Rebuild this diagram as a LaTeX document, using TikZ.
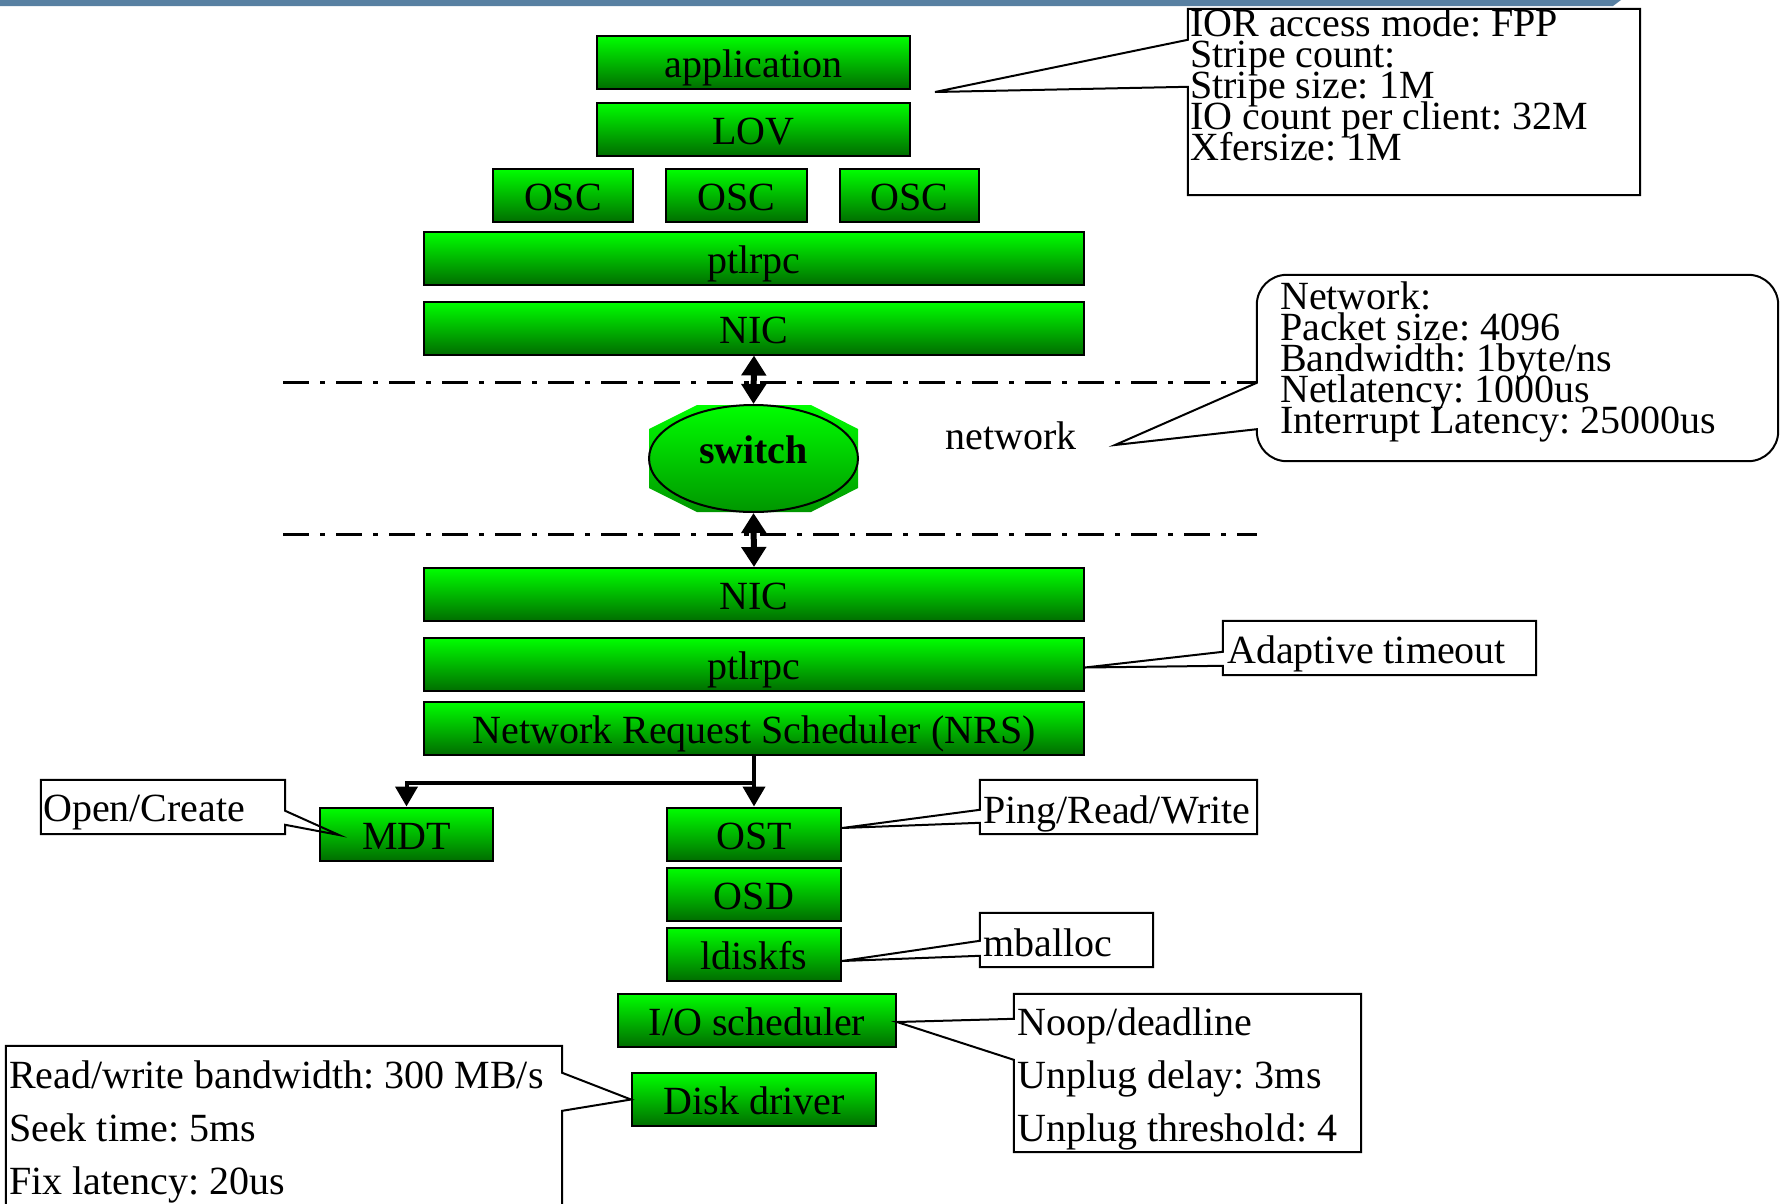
\documentclass[tikz,border=0pt]{standalone}
\usepackage{fontspec}
\setmainfont{Liberation Serif}
\usetikzlibrary{arrows.meta,calc,shapes.geometric}
\frenchspacing
\newcommand\tightlines{\setlength{\lineskiplimit}{-100pt}}

\definecolor{limetop}{RGB}{0,255,0}
\definecolor{limebot}{RGB}{0,110,0}
\definecolor{swbot}{RGB}{0,150,0}
\definecolor{barblue}{RGB}{88,128,162}

\begin{document}
\begin{tikzpicture}[x=1pt, y=-1pt,
		font=\fontsize{40pt}{31pt}\selectfont\tightlines,
		b/.style = {rectangle, draw=black, line width=2pt, top color=limetop, bottom color=limebot, minimum height=53pt, inner sep=0pt, text height=30pt, text depth=0pt},
		f/.style = {rectangle, inner sep=0pt},
		t/.style = {inner sep=0pt, align=left},
		c/.style = {draw=black, line width=2pt},
		d/.style = {{Triangle[width=24pt,length=20pt]}-{Triangle[width=24pt,length=20pt]}, line width=6pt},
		r/.style = {-{Triangle[width=22pt,length=20pt]}, line width=4pt},
		n/.style = {line width=3pt, dash pattern=on 26pt off 11pt on 5pt off 11pt}
		]
		
		\useasboundingbox (0,0) rectangle (1781,1203);
		\clip (0,0) rectangle (1781,1203);
		\fill[barblue] (0,0) -- (1621,0) -- (1613,6) -- (0,6) -- cycle;
		
		%Nodes
		\node[b, minimum width=313pt]	(app)	at	(753.5, 62.5)	{application};
		\node[b, minimum width=313pt]	(lov)	at	(753.5, 129)	{LOV};
		\node[b, minimum width=140pt]	(osc1)	at	(563, 195.5)	{OSC};
		\node[b, minimum width=141pt]	(osc2)	at	(736.5, 195.5)	{OSC};
		\node[b, minimum width=139pt]	(osc3)	at	(909.5, 195.5)	{OSC};
		\node[b, minimum width=660pt]	(ptl1)	at	(754, 258.5)	{ptlrpc};
		\node[b, minimum width=660pt]	(nic1)	at	(754, 328)	{NIC};
		\shade[top color=limetop, bottom color=swbot] (697,405) -- (811,405) -- (858,429) -- (858,488) -- (811,512) -- (697,512) -- (649,488) -- (649,429) -- cycle;
		\node[ellipse, draw=black, line width=2pt, minimum width=209pt, minimum height=107pt, inner sep=0pt, text height=30pt, text depth=21pt, font=\fontsize{40pt}{30pt}\selectfont\bfseries]	(switch)	at	(753.5, 458.5)	{switch};
		\node[anchor=base]	(net)	at	(1011, 449)	{network};
		\node[b, minimum width=660pt]	(nic2)	at	(754, 594.5)	{NIC};
		\node[b, minimum width=660pt]	(ptl2)	at	(754, 664.5)	{ptlrpc};
		\node[b, minimum width=660pt]	(nrs)	at	(754, 728)	{Network Request Scheduler (NRS)};
		\node[b, minimum width=173pt]	(mdt)	at	(406.5, 834)	{MDT};
		\node[b, minimum width=174pt]	(ost)	at	(754, 834)	{OST};
		\node[b, minimum width=174pt]	(osd)	at	(754, 894)	{OSD};
		\node[b, minimum width=174pt]	(ldisk)	at	(754, 954)	{ldiskfs};
		\node[b, minimum width=278pt]	(iosch)	at	(757, 1020)	{I/O scheduler};
		\node[b, minimum width=244pt]	(disk)	at	(754, 1099.5)	{Disk driver};
		
		%Callouts
		\node[f, minimum width=452pt, minimum height=186pt]	(ior)	at	(1414, 102)	{};
		\node[f, minimum width=521pt, minimum height=186pt]	(netw)	at	(1517.5, 368)	{};
		\node[f, minimum width=313pt, minimum height=54pt]	(adapt)	at	(1379.5, 648)	{};
		\node[f, minimum width=277pt, minimum height=54pt]	(ping)	at	(1118.5, 807)	{};
		\node[f, minimum width=173pt, minimum height=54pt]	(mball)	at	(1066.5, 940)	{};
		\node[f, minimum width=347pt, minimum height=158pt]	(noop)	at	(1187.5, 1073)	{};
		\node[f, minimum width=244pt, minimum height=54pt]	(open)	at	(163, 807)	{};
		\node[f, minimum width=556pt, minimum height=184pt]	(rw)	at	(284, 1138)	{};
		
		\node[t, anchor=north west]	(iort)	at	(1190, 9)	{IOR access mode: FPP\\Stripe count:\\Stripe size: 1M\\IO count per client: 32M\\Xfersize: 1M};
		\node[t, anchor=north west]	(netwt)	at	(1280, 282)	{Network:\\Packet size: 4096\\Bandwidth: 1byte/ns\\Netlatency: 1000us\\Interrupt Latency: 25000us};
		\node[t, anchor=base west]	(adaptt)	at	(1227, 663)	{Adaptive timeout};
		\node[t, anchor=base west]	(pingt)	at	(983, 823)	{Ping/Read/Write};
		\node[t, anchor=base west]	(mballt)	at	(983, 956)	{mballoc};
		\node[t, anchor=north west, font=\fontsize{40pt}{53pt}\selectfont\tightlines]	(noopt)	at	(1017, 1008)	{Noop/deadline\\Unplug delay: 3ms\\Unplug threshold: 4};
		\node[t, anchor=base west]	(opent)	at	(43, 821)	{Open/Create};
		\node[t, anchor=north west, font=\fontsize{40pt}{53pt}\selectfont\tightlines]	(rwt)	at	(9, 1061)	{Read/write bandwidth: 300 MB/s\\Seek time: 5ms\\Fix latency: 20us};
		
		\coordinate	(iortip)	at	(935, 92);
		\coordinate	(netwtip)	at	(1115, 445);
		\coordinate	(split)	at	(754, 783);
		\coordinate	(l1)	at	(283, 382);
		\coordinate	(l2)	at	(283, 534);
		
		%Lines
		\draw[n]	(l1)	--	(netw.west |- l1);
		\draw[n]	(l2)	--	(netw.west |- l2);
		\draw[d]	(nic1.south)	--	(switch.north);
		\draw[d]	(switch.south)	--	(nic2.north);
		\draw[r]	(nrs.south)	--	(ost.north);
		\draw[r]	(split)	-|	(mdt.north);
		
		\draw[c]	($(ior.north west)+(0,31)$) -- (iortip) -- ($(ior.north west)+(0,78)$) -- (ior.south west) -- (ior.south east) -- (ior.north east) -- (ior.north west) -- cycle;
		\draw[c]	(netwtip) -- ($(netw.north west)+(0,108)$) [rounded corners=30pt] -- (netw.north west) -- (netw.north east) -- (netw.south east) -- (netw.south west) [sharp corners] -- ($(netw.south west)+(0,-32)$) -- cycle;
		\draw[c]	($(adapt.north west)+(0,31)$) -- ($(ptl2.east)+(0,3)$) -- ($(adapt.north west)+(0,45)$) -- (adapt.south west) -- (adapt.south east) -- (adapt.north east) -- (adapt.north west) -- cycle;
		\draw[c]	($(ping.north west)+(0,30)$) -- ($(ost.east)+(0,-6)$) -- ($(ping.north west)+(0,43)$) -- (ping.south west) -- (ping.south east) -- (ping.north east) -- (ping.north west) -- cycle;
		\draw[c]	($(mball.north west)+(0,28)$) -- ($(ldisk.east)+(0,7)$) -- ($(mball.north west)+(0,43)$) -- (mball.south west) -- (mball.south east) -- (mball.north east) -- (mball.north west) -- cycle;
		\draw[c]	($(noop.north west)+(0,25)$) -- ($(iosch.east)+(0,2)$) -- ($(noop.north west)+(0,66)$) -- (noop.south west) -- (noop.south east) -- (noop.north east) -- (noop.north west) -- cycle;
		\draw[c]	($(open.north east)+(0,31)$) -- ($(mdt.west)+(20,1)$) -- ($(open.north east)+(0,45)$) -- (open.south east) -- (open.south west) -- (open.north west) -- (open.north east) -- cycle;
		\draw[c]	($(rw.north east)+(0,27)$) -- (disk.west) -- ($(rw.north east)+(0,65)$) -- (rw.south east) -- (rw.south west) -- (rw.north west) -- (rw.north east) -- cycle;
	\end{tikzpicture}
\end{document}
